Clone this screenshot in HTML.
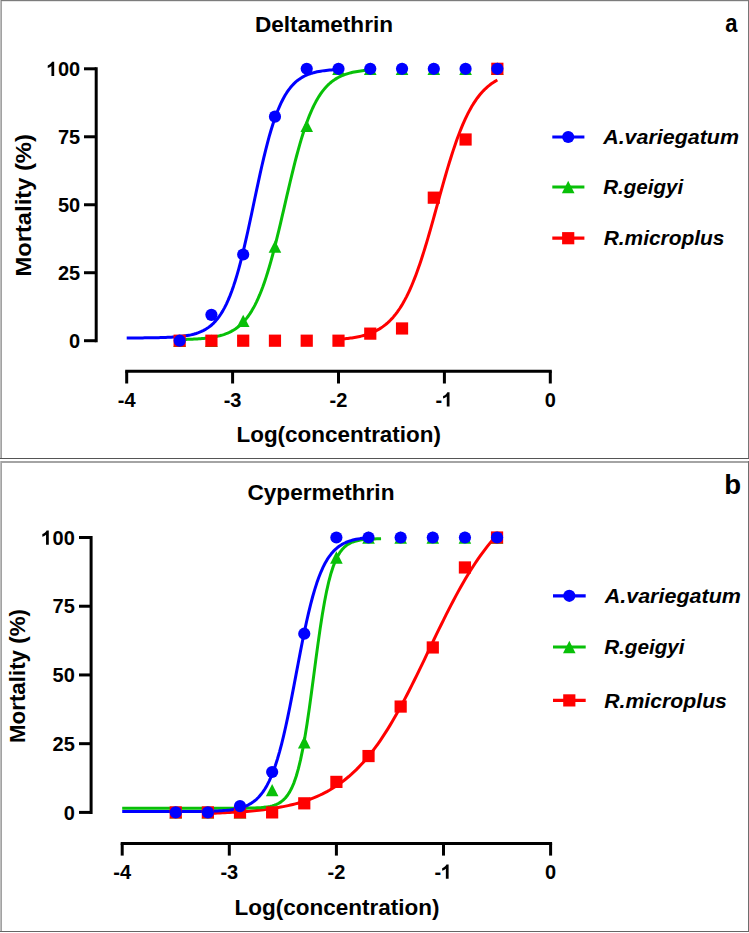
<!DOCTYPE html>
<html><head><meta charset="utf-8"><style>
html,body{margin:0;padding:0;background:#fff;}
body{width:749px;height:933px;overflow:hidden;}
svg{display:block;}
text{font-family:"Liberation Sans",sans-serif;font-weight:bold;fill:#000;}
.tk{font-size:20px;}
.ti{font-size:22px;}
.lg{font-size:21px;font-style:italic;}
.pl{font-size:26px;}
</style></head><body>
<svg width="749" height="933" viewBox="0 0 749 933">
<rect x="0" y="0" width="749" height="459" fill="#fff"/>
<rect x="0" y="0" width="748" height="1" fill="#7c7c7c"/>
<rect x="0" y="0" width="1" height="458" fill="#bcbcbc"/>
<rect x="1" y="1" width="1" height="457" fill="#a2a2a2"/>
<rect x="2" y="1" width="746" height="1" fill="#e6e6e6"/>
<rect x="748" y="0" width="1" height="459" fill="#767676"/>
<rect x="0" y="458" width="749" height="1" fill="#555"/>
<rect x="0" y="461" width="748" height="2" fill="#a4a4a4"/>
<rect x="0" y="461" width="1" height="470" fill="#bcbcbc"/>
<rect x="1" y="461" width="1" height="470" fill="#a2a2a2"/>
<rect x="748" y="461" width="1" height="471" fill="#6e6e6e"/>
<rect x="0" y="931" width="749" height="1" fill="#666"/>
<line x1="96.2" y1="67.30000000000001" x2="96.2" y2="342.2" stroke="#000" stroke-width="3"/>
<line x1="84" y1="340.7" x2="96.2" y2="340.7" stroke="#000" stroke-width="3"/>
<text x="80.2" y="347.9" text-anchor="end" class="tk">0</text>
<line x1="84" y1="272.725" x2="96.2" y2="272.725" stroke="#000" stroke-width="3"/>
<text x="80.2" y="279.925" text-anchor="end" class="tk">25</text>
<line x1="84" y1="204.75" x2="96.2" y2="204.75" stroke="#000" stroke-width="3"/>
<text x="80.2" y="211.95" text-anchor="end" class="tk">50</text>
<line x1="84" y1="136.775" x2="96.2" y2="136.775" stroke="#000" stroke-width="3"/>
<text x="80.2" y="143.975" text-anchor="end" class="tk">75</text>
<line x1="84" y1="68.80000000000001" x2="96.2" y2="68.80000000000001" stroke="#000" stroke-width="3"/>
<text x="80.2" y="76.00000000000001" text-anchor="end" class="tk">00</text>
<path transform="translate(46.84,76.00)" d="M7.35 0L4.6 0L4.6 -10.0C3.6 -9.1 2.3 -8.4 0.9 -8.0L0.9 -10.6C1.8 -10.9 2.7 -11.5 3.6 -12.2C4.4 -12.9 4.9 -13.6 5.2 -14.3L7.35 -14.3Z" fill="#000"/>
<line x1="125.19999999999993" y1="371.3" x2="551.8" y2="371.3" stroke="#000" stroke-width="3"/>
<line x1="126.69999999999993" y1="371.3" x2="126.69999999999993" y2="383.5" stroke="#000" stroke-width="3"/>
<text x="126.69999999999993" y="406.6" text-anchor="middle" class="tk">-4</text>
<line x1="232.5999999999999" y1="371.3" x2="232.5999999999999" y2="383.5" stroke="#000" stroke-width="3"/>
<text x="232.5999999999999" y="406.6" text-anchor="middle" class="tk">-3</text>
<line x1="338.49999999999994" y1="371.3" x2="338.49999999999994" y2="383.5" stroke="#000" stroke-width="3"/>
<text x="338.49999999999994" y="406.6" text-anchor="middle" class="tk">-2</text>
<line x1="444.4" y1="371.3" x2="444.4" y2="383.5" stroke="#000" stroke-width="3"/>
<text x="435.51" y="406.6" class="tk">-</text>
<path transform="translate(442.17,406.60)" d="M7.35 0L4.6 0L4.6 -10.0C3.6 -9.1 2.3 -8.4 0.9 -8.0L0.9 -10.6C1.8 -10.9 2.7 -11.5 3.6 -12.2C4.4 -12.9 4.9 -13.6 5.2 -14.3L7.35 -14.3Z" fill="#000"/>
<line x1="550.3" y1="371.3" x2="550.3" y2="383.5" stroke="#000" stroke-width="3"/>
<text x="550.3" y="406.6" text-anchor="middle" class="tk">0</text>
<polyline points="338.50,339.33 339.83,339.22 341.17,339.12 342.50,339.00 343.84,338.87 345.17,338.74 346.51,338.60 347.84,338.44 349.18,338.28 350.51,338.10 351.85,337.91 353.18,337.70 354.52,337.48 355.85,337.25 357.19,337.00 358.52,336.73 359.86,336.44 361.19,336.13 362.53,335.80 363.86,335.44 365.20,335.06 366.53,334.65 367.87,334.21 369.20,333.75 370.54,333.24 371.87,332.71 373.21,332.14 374.54,331.52 375.88,330.87 377.21,330.17 378.55,329.42 379.88,328.63 381.22,327.77 382.55,326.87 383.89,325.90 385.22,324.87 386.56,323.77 387.89,322.60 389.23,321.36 390.56,320.03 391.89,318.63 393.23,317.14 394.56,315.55 395.90,313.88 397.23,312.10 398.57,310.22 399.90,308.24 401.24,306.14 402.57,303.93 403.91,301.60 405.24,299.15 406.58,296.58 407.91,293.88 409.25,291.05 410.58,288.08 411.92,284.99 413.25,281.76 414.59,278.40 415.92,274.91 417.26,271.29 418.59,267.54 419.93,263.66 421.26,259.67 422.60,255.55 423.93,251.33 425.27,247.00 426.60,242.58 427.94,238.06 429.27,233.47 430.61,228.81 431.94,224.09 433.28,219.33 434.61,214.52 435.95,209.70 437.28,204.86 438.62,200.02 439.95,195.20 441.29,190.40 442.62,185.64 443.96,180.93 445.29,176.28 446.62,171.70 447.96,167.19 449.29,162.78 450.63,158.46 451.96,154.25 453.30,150.15 454.63,146.17 455.97,142.31 457.30,138.57 458.64,134.97 459.97,131.49 461.31,128.15 462.64,124.94 463.98,121.86 465.31,118.92 466.65,116.10 467.98,113.42 469.32,110.86 470.65,108.42 471.99,106.11 473.32,103.91 474.66,101.83 475.99,99.86 477.33,97.99 478.66,96.23 480.00,94.56 481.33,92.99 482.67,91.51 484.00,90.12 485.34,88.80 486.67,87.57 488.01,86.41 489.34,85.32 490.68,84.29 492.01,83.33 493.35,82.43 494.68,81.59 496.02,80.80 497.35,80.06" fill="none" stroke="#ff0000" stroke-width="3" stroke-linejoin="round"/>
<polyline points="179.65,339.56 181.25,339.53 182.85,339.49 184.46,339.44 186.06,339.40 187.66,339.34 189.26,339.29 190.86,339.22 192.46,339.15 194.07,339.07 195.67,338.98 197.27,338.89 198.87,338.78 200.47,338.66 202.08,338.53 203.68,338.39 205.28,338.23 206.88,338.05 208.48,337.85 210.09,337.63 211.69,337.39 213.29,337.13 214.89,336.84 216.49,336.51 218.09,336.15 219.70,335.76 221.30,335.32 222.90,334.83 224.50,334.30 226.10,333.71 227.71,333.06 229.31,332.35 230.91,331.56 232.51,330.69 234.11,329.74 235.71,328.69 237.32,327.54 238.92,326.28 240.52,324.89 242.12,323.37 243.72,321.71 245.33,319.90 246.93,317.92 248.53,315.76 250.13,313.41 251.73,310.86 253.34,308.10 254.94,305.11 256.54,301.89 258.14,298.42 259.74,294.69 261.34,290.70 262.95,286.45 264.55,281.92 266.15,277.11 267.75,272.04 269.35,266.70 270.96,261.10 272.56,255.26 274.16,249.18 275.76,242.90 277.36,236.44 278.96,229.81 280.57,223.06 282.17,216.21 283.77,209.30 285.37,202.36 286.97,195.43 288.58,188.55 290.18,181.75 291.78,175.07 293.38,168.53 294.98,162.17 296.58,156.00 298.19,150.06 299.79,144.36 301.39,138.90 302.99,133.72 304.59,128.80 306.20,124.15 307.80,119.77 309.40,115.67 311.00,111.83 312.60,108.25 314.21,104.93 315.81,101.84 317.41,98.98 319.01,96.34 320.61,93.91 322.21,91.67 323.82,89.62 325.42,87.73 327.02,86.01 328.62,84.43 330.22,82.99 331.83,81.67 333.43,80.47 335.03,79.38 336.63,78.39 338.23,77.48 339.83,76.66 341.44,75.92 343.04,75.24 344.64,74.63 346.24,74.07 347.84,73.57 349.45,73.11 351.05,72.70 352.65,72.32 354.25,71.98 355.85,71.68 357.46,71.40 359.06,71.15 360.66,70.92 362.26,70.72 363.86,70.53 365.46,70.36 367.07,70.21 368.67,70.08 370.27,69.95" fill="none" stroke="#08c008" stroke-width="3" stroke-linejoin="round"/>
<polyline points="126.70,337.95 128.48,337.94 130.26,337.94 132.04,337.93 133.82,337.92 135.60,337.92 137.38,337.91 139.16,337.90 140.94,337.89 142.72,337.88 144.50,337.86 146.28,337.85 148.06,337.83 149.84,337.81 151.62,337.78 153.40,337.76 155.18,337.73 156.96,337.69 158.74,337.66 160.52,337.61 162.30,337.56 164.08,337.51 165.86,337.44 167.64,337.37 169.42,337.29 171.20,337.20 172.98,337.09 174.76,336.97 176.54,336.84 178.32,336.69 180.09,336.51 181.87,336.32 183.65,336.10 185.43,335.85 187.21,335.56 188.99,335.24 190.77,334.88 192.55,334.47 194.33,334.01 196.11,333.48 197.89,332.89 199.67,332.22 201.45,331.47 203.23,330.62 205.01,329.67 206.79,328.59 208.57,327.38 210.35,326.03 212.13,324.50 213.91,322.80 215.69,320.89 217.47,318.77 219.25,316.40 221.03,313.77 222.81,310.85 224.59,307.62 226.37,304.07 228.15,300.16 229.93,295.88 231.71,291.22 233.49,286.16 235.27,280.69 237.05,274.82 238.83,268.54 240.61,261.86 242.39,254.81 244.17,247.42 245.95,239.71 247.73,231.74 249.51,223.55 251.29,215.21 253.07,206.78 254.85,198.31 256.63,189.89 258.41,181.58 260.19,173.43 261.97,165.51 263.75,157.86 265.53,150.53 267.31,143.55 269.09,136.96 270.87,130.75 272.65,124.96 274.43,119.58 276.21,114.60 277.99,110.01 279.77,105.81 281.55,101.98 283.33,98.49 285.11,95.32 286.88,92.47 288.66,89.89 290.44,87.57 292.22,85.49 294.00,83.62 295.78,81.96 297.56,80.47 299.34,79.14 301.12,77.96 302.90,76.91 304.68,75.98 306.46,75.15 308.24,74.42 310.02,73.76 311.80,73.19 313.58,72.68 315.36,72.22 317.14,71.82 318.92,71.47 320.70,71.16 322.48,70.88 324.26,70.64 326.04,70.42 327.82,70.23 329.60,70.06 331.38,69.91 333.16,69.78 334.94,69.67 336.72,69.56 338.50,69.47" fill="none" stroke="#0000ff" stroke-width="3" stroke-linejoin="round"/>
<polygon points="179.65,334.50 185.95,346.90 173.35,346.90" fill="#08c008"/>
<polygon points="211.42,334.50 217.72,346.90 205.12,346.90" fill="#08c008"/>
<polygon points="243.19,314.65 249.49,327.05 236.89,327.05" fill="#08c008"/>
<polygon points="274.96,240.42 281.26,252.82 268.66,252.82" fill="#08c008"/>
<polygon points="306.73,119.70 313.03,132.10 300.43,132.10" fill="#08c008"/>
<polygon points="338.50,62.60 344.80,75.00 332.20,75.00" fill="#08c008"/>
<polygon points="370.27,62.60 376.57,75.00 363.97,75.00" fill="#08c008"/>
<polygon points="402.04,62.60 408.34,75.00 395.74,75.00" fill="#08c008"/>
<polygon points="433.81,62.60 440.11,75.00 427.51,75.00" fill="#08c008"/>
<polygon points="465.58,62.60 471.88,75.00 459.28,75.00" fill="#08c008"/>
<polygon points="497.35,62.60 503.65,75.00 491.05,75.00" fill="#08c008"/>
<rect x="173.55" y="334.60" width="12.2" height="12.2" fill="#ff0000"/>
<rect x="205.32" y="334.60" width="12.2" height="12.2" fill="#ff0000"/>
<rect x="237.09" y="334.60" width="12.2" height="12.2" fill="#ff0000"/>
<rect x="268.86" y="334.60" width="12.2" height="12.2" fill="#ff0000"/>
<rect x="300.63" y="334.60" width="12.2" height="12.2" fill="#ff0000"/>
<rect x="332.40" y="334.60" width="12.2" height="12.2" fill="#ff0000"/>
<rect x="364.17" y="327.53" width="12.2" height="12.2" fill="#ff0000"/>
<rect x="395.94" y="322.36" width="12.2" height="12.2" fill="#ff0000"/>
<rect x="427.71" y="191.58" width="12.2" height="12.2" fill="#ff0000"/>
<rect x="459.48" y="133.39" width="12.2" height="12.2" fill="#ff0000"/>
<rect x="491.25" y="62.70" width="12.2" height="12.2" fill="#ff0000"/>
<circle cx="179.65" cy="340.70" r="6.1" fill="#0000ff"/>
<circle cx="211.42" cy="314.87" r="6.1" fill="#0000ff"/>
<circle cx="243.19" cy="254.51" r="6.1" fill="#0000ff"/>
<circle cx="274.96" cy="116.65" r="6.1" fill="#0000ff"/>
<circle cx="306.73" cy="68.80" r="6.1" fill="#0000ff"/>
<circle cx="338.50" cy="68.80" r="6.1" fill="#0000ff"/>
<circle cx="370.27" cy="68.80" r="6.1" fill="#0000ff"/>
<circle cx="402.04" cy="68.80" r="6.1" fill="#0000ff"/>
<circle cx="433.81" cy="68.80" r="6.1" fill="#0000ff"/>
<circle cx="465.58" cy="68.80" r="6.1" fill="#0000ff"/>
<circle cx="497.35" cy="68.80" r="6.1" fill="#0000ff"/>
<line x1="91.1" y1="536.0" x2="91.1" y2="813.9" stroke="#000" stroke-width="3"/>
<line x1="79" y1="812.4" x2="91.1" y2="812.4" stroke="#000" stroke-width="3"/>
<text x="74.8" y="819.6" text-anchor="end" class="tk">0</text>
<line x1="79" y1="743.675" x2="91.1" y2="743.675" stroke="#000" stroke-width="3"/>
<text x="74.8" y="750.875" text-anchor="end" class="tk">25</text>
<line x1="79" y1="674.9499999999999" x2="91.1" y2="674.9499999999999" stroke="#000" stroke-width="3"/>
<text x="74.8" y="682.15" text-anchor="end" class="tk">50</text>
<line x1="79" y1="606.2249999999999" x2="91.1" y2="606.2249999999999" stroke="#000" stroke-width="3"/>
<text x="74.8" y="613.425" text-anchor="end" class="tk">75</text>
<line x1="79" y1="537.5" x2="91.1" y2="537.5" stroke="#000" stroke-width="3"/>
<text x="74.8" y="544.7" text-anchor="end" class="tk">00</text>
<path transform="translate(41.44,544.70)" d="M7.35 0L4.6 0L4.6 -10.0C3.6 -9.1 2.3 -8.4 0.9 -8.0L0.9 -10.6C1.8 -10.9 2.7 -11.5 3.6 -12.2C4.4 -12.9 4.9 -13.6 5.2 -14.3L7.35 -14.3Z" fill="#000"/>
<line x1="120.70000000000005" y1="843.4" x2="552.1" y2="843.4" stroke="#000" stroke-width="3"/>
<line x1="122.20000000000005" y1="843.4" x2="122.20000000000005" y2="855.6" stroke="#000" stroke-width="3"/>
<text x="122.20000000000005" y="878.8" text-anchor="middle" class="tk">-4</text>
<line x1="229.30000000000007" y1="843.4" x2="229.30000000000007" y2="855.6" stroke="#000" stroke-width="3"/>
<text x="229.30000000000007" y="878.8" text-anchor="middle" class="tk">-3</text>
<line x1="336.40000000000003" y1="843.4" x2="336.40000000000003" y2="855.6" stroke="#000" stroke-width="3"/>
<text x="336.40000000000003" y="878.8" text-anchor="middle" class="tk">-2</text>
<line x1="443.5" y1="843.4" x2="443.5" y2="855.6" stroke="#000" stroke-width="3"/>
<text x="434.61" y="878.8" class="tk">-</text>
<path transform="translate(441.27,878.80)" d="M7.35 0L4.6 0L4.6 -10.0C3.6 -9.1 2.3 -8.4 0.9 -8.0L0.9 -10.6C1.8 -10.9 2.7 -11.5 3.6 -12.2C4.4 -12.9 4.9 -13.6 5.2 -14.3L7.35 -14.3Z" fill="#000"/>
<line x1="550.6" y1="843.4" x2="550.6" y2="855.6" stroke="#000" stroke-width="3"/>
<text x="550.6" y="878.8" text-anchor="middle" class="tk">0</text>
<polyline points="207.88,813.37 210.31,813.30 212.74,813.22 215.17,813.13 217.60,813.04 220.03,812.94 222.46,812.84 224.89,812.73 227.32,812.62 229.75,812.49 232.18,812.36 234.61,812.22 237.04,812.07 239.47,811.91 241.90,811.75 244.33,811.57 246.76,811.38 249.19,811.18 251.62,810.96 254.05,810.74 256.48,810.50 258.91,810.24 261.34,809.97 263.77,809.68 266.20,809.37 268.63,809.05 271.06,808.70 273.49,808.34 275.92,807.95 278.35,807.54 280.78,807.10 283.21,806.63 285.64,806.14 288.07,805.62 290.50,805.07 292.93,804.48 295.36,803.86 297.79,803.20 300.22,802.50 302.65,801.76 305.08,800.98 307.51,800.16 309.94,799.28 312.37,798.36 314.80,797.38 317.23,796.34 319.66,795.25 322.09,794.10 324.52,792.88 326.95,791.60 329.38,790.25 331.81,788.82 334.24,787.31 336.67,785.73 339.10,784.07 341.53,782.32 343.96,780.48 346.39,778.54 348.82,776.52 351.25,774.39 353.68,772.16 356.11,769.83 358.54,767.39 360.97,764.84 363.40,762.18 365.83,759.41 368.26,756.51 370.69,753.50 373.12,750.38 375.55,747.13 377.98,743.76 380.41,740.27 382.84,736.66 385.27,732.93 387.70,729.09 390.13,725.13 392.56,721.05 394.99,716.87 397.42,712.58 399.85,708.18 402.28,703.70 404.71,699.12 407.14,694.45 409.57,689.71 412.00,684.89 414.43,680.01 416.86,675.08 419.29,670.10 421.72,665.08 424.15,660.04 426.58,654.97 429.01,649.90 431.44,644.83 433.87,639.76 436.30,634.72 438.73,629.70 441.16,624.73 443.59,619.80 446.02,614.92 448.45,610.11 450.88,605.37 453.31,600.71 455.74,596.14 458.17,591.65 460.60,587.27 463.03,582.98 465.46,578.81 467.89,574.74 470.32,570.78 472.75,566.95 475.18,563.23 477.61,559.62 480.04,556.14 482.47,552.78 484.90,549.54 487.33,546.42 489.76,543.42 492.19,540.53 494.62,537.77 497.05,535.11" fill="none" stroke="#ff0000" stroke-width="3" stroke-linejoin="round"/>
<polyline points="122.20,808.28 124.38,808.28 126.55,808.28 128.73,808.28 130.90,808.28 133.08,808.28 135.25,808.28 137.43,808.28 139.60,808.28 141.78,808.28 143.95,808.28 146.13,808.28 148.30,808.28 150.48,808.28 152.65,808.28 154.83,808.28 157.00,808.28 159.18,808.28 161.36,808.28 163.53,808.28 165.71,808.28 167.88,808.28 170.06,808.28 172.23,808.28 174.41,808.28 176.58,808.28 178.76,808.28 180.93,808.28 183.11,808.28 185.28,808.28 187.46,808.28 189.63,808.28 191.81,808.28 193.98,808.28 196.16,808.28 198.34,808.28 200.51,808.28 202.69,808.28 204.86,808.28 207.04,808.27 209.21,808.27 211.39,808.27 213.56,808.27 215.74,808.27 217.91,808.27 220.09,808.27 222.26,808.27 224.44,808.27 226.61,808.26 228.79,808.26 230.97,808.25 233.14,808.25 235.32,808.24 237.49,808.23 239.67,808.21 241.84,808.20 244.02,808.18 246.19,808.15 248.37,808.11 250.54,808.07 252.72,808.01 254.89,807.93 257.07,807.84 259.24,807.71 261.42,807.56 263.59,807.36 265.77,807.11 267.95,806.78 270.12,806.37 272.30,805.85 274.47,805.18 276.65,804.33 278.82,803.26 281.00,801.89 283.17,800.18 285.35,798.01 287.52,795.30 289.70,791.91 291.87,787.72 294.05,782.55 296.22,776.25 298.40,768.67 300.57,759.65 302.75,749.11 304.93,737.02 307.10,723.46 309.28,708.61 311.45,692.79 313.63,676.40 315.80,659.92 317.98,643.84 320.15,628.60 322.33,614.55 324.50,601.92 326.68,590.82 328.85,581.27 331.03,573.18 333.20,566.44 335.38,560.89 337.55,556.37 339.73,552.71 341.91,549.77 344.08,547.42 346.26,545.55 348.43,544.07 350.61,542.90 352.78,541.98 354.96,541.25 357.13,540.68 359.31,540.23 361.48,539.88 363.66,539.60 365.83,539.38 368.01,539.21 370.18,539.08 372.36,538.98 374.53,538.89 376.71,538.83 378.89,538.78 381.06,538.74" fill="none" stroke="#08c008" stroke-width="3" stroke-linejoin="round"/>
<polyline points="122.20,811.57 124.27,811.57 126.34,811.57 128.41,811.57 130.48,811.57 132.55,811.57 134.62,811.57 136.69,811.57 138.76,811.57 140.83,811.57 142.90,811.57 144.97,811.57 147.04,811.57 149.11,811.57 151.18,811.57 153.25,811.57 155.32,811.57 157.39,811.57 159.46,811.57 161.53,811.57 163.60,811.57 165.67,811.56 167.74,811.56 169.81,811.56 171.88,811.56 173.95,811.55 176.02,811.55 178.09,811.54 180.16,811.54 182.23,811.53 184.30,811.53 186.37,811.52 188.44,811.51 190.51,811.50 192.58,811.48 194.65,811.47 196.72,811.45 198.79,811.43 200.86,811.40 202.93,811.37 205.00,811.33 207.07,811.29 209.14,811.24 211.21,811.18 213.28,811.12 215.35,811.04 217.42,810.94 219.49,810.84 221.56,810.71 223.63,810.56 225.70,810.38 227.77,810.18 229.84,809.94 231.91,809.65 233.98,809.32 236.05,808.94 238.12,808.49 240.19,807.96 242.26,807.34 244.33,806.62 246.40,805.78 248.47,804.80 250.54,803.66 252.61,802.34 254.68,800.80 256.75,799.02 258.82,796.96 260.89,794.58 262.96,791.85 265.03,788.72 267.10,785.14 269.17,781.07 271.24,776.46 273.31,771.27 275.38,765.46 277.45,759.00 279.52,751.87 281.59,744.06 283.66,735.60 285.73,726.51 287.80,716.85 289.87,706.70 291.94,696.16 294.01,685.35 296.08,674.39 298.15,663.43 300.22,652.61 302.29,642.05 304.36,631.88 306.43,622.20 308.50,613.08 310.57,604.59 312.64,596.75 314.71,589.59 316.78,583.09 318.85,577.25 320.92,572.03 322.99,567.39 325.06,563.30 327.13,559.69 329.20,556.54 331.27,553.79 333.34,551.40 335.41,549.32 337.48,547.53 339.55,545.98 341.62,544.65 343.69,543.50 345.76,542.51 347.83,541.67 349.90,540.94 351.97,540.32 354.04,539.79 356.11,539.33 358.18,538.94 360.25,538.61 362.32,538.33 364.39,538.08 366.46,537.88 368.53,537.70" fill="none" stroke="#0000ff" stroke-width="3" stroke-linejoin="round"/>
<polygon points="175.75,806.20 182.05,818.60 169.45,818.60" fill="#08c008"/>
<polygon points="207.88,806.20 214.18,818.60 201.58,818.60" fill="#08c008"/>
<polygon points="240.01,806.20 246.31,818.60 233.71,818.60" fill="#08c008"/>
<polygon points="272.14,783.93 278.44,796.33 265.84,796.33" fill="#08c008"/>
<polygon points="304.27,736.10 310.57,748.50 297.97,748.50" fill="#08c008"/>
<polygon points="336.40,551.37 342.70,563.77 330.10,563.77" fill="#08c008"/>
<polygon points="368.53,531.30 374.83,543.70 362.23,543.70" fill="#08c008"/>
<polygon points="400.66,531.30 406.96,543.70 394.36,543.70" fill="#08c008"/>
<polygon points="432.79,531.30 439.09,543.70 426.49,543.70" fill="#08c008"/>
<polygon points="464.92,531.30 471.22,543.70 458.62,543.70" fill="#08c008"/>
<polygon points="497.05,531.30 503.35,543.70 490.75,543.70" fill="#08c008"/>
<rect x="169.65" y="806.30" width="12.2" height="12.2" fill="#ff0000"/>
<rect x="201.78" y="806.30" width="12.2" height="12.2" fill="#ff0000"/>
<rect x="233.91" y="806.30" width="12.2" height="12.2" fill="#ff0000"/>
<rect x="266.04" y="806.30" width="12.2" height="12.2" fill="#ff0000"/>
<rect x="298.17" y="797.23" width="12.2" height="12.2" fill="#ff0000"/>
<rect x="330.30" y="775.79" width="12.2" height="12.2" fill="#ff0000"/>
<rect x="362.43" y="749.95" width="12.2" height="12.2" fill="#ff0000"/>
<rect x="394.56" y="700.46" width="12.2" height="12.2" fill="#ff0000"/>
<rect x="426.69" y="641.36" width="12.2" height="12.2" fill="#ff0000"/>
<rect x="458.82" y="561.36" width="12.2" height="12.2" fill="#ff0000"/>
<rect x="490.95" y="531.40" width="12.2" height="12.2" fill="#ff0000"/>
<circle cx="175.75" cy="812.40" r="6.1" fill="#0000ff"/>
<circle cx="207.88" cy="812.40" r="6.1" fill="#0000ff"/>
<circle cx="240.01" cy="806.08" r="6.1" fill="#0000ff"/>
<circle cx="272.14" cy="771.99" r="6.1" fill="#0000ff"/>
<circle cx="304.27" cy="633.71" r="6.1" fill="#0000ff"/>
<circle cx="336.40" cy="537.50" r="6.1" fill="#0000ff"/>
<circle cx="368.53" cy="537.50" r="6.1" fill="#0000ff"/>
<circle cx="400.66" cy="537.50" r="6.1" fill="#0000ff"/>
<circle cx="432.79" cy="537.50" r="6.1" fill="#0000ff"/>
<circle cx="464.92" cy="537.50" r="6.1" fill="#0000ff"/>
<circle cx="497.05" cy="537.50" r="6.1" fill="#0000ff"/>
<line x1="552.3" y1="137" x2="584.4" y2="137" stroke="#0000ff" stroke-width="3.2"/>
<circle cx="568.20" cy="137.00" r="6.1" fill="#0000ff"/>
<text transform="translate(603.15,144) scale(1.0212,1)" class="lg" style="font-size:21px">A.variegatum</text>
<line x1="552.3" y1="187" x2="584.4" y2="187" stroke="#08c008" stroke-width="3.2"/>
<polygon points="568.20,180.80 574.50,193.20 561.90,193.20" fill="#08c008"/>
<text transform="translate(603.20,194) scale(0.9788,1)" class="lg" style="font-size:21px">R.geigyi</text>
<line x1="552.3" y1="238.2" x2="584.4" y2="238.2" stroke="#ff0000" stroke-width="3.2"/>
<rect x="562.10" y="232.10" width="12.2" height="12.2" fill="#ff0000"/>
<text transform="translate(603.70,245.4) scale(0.9957,1)" class="lg" style="font-size:21px">R.microplus</text>
<line x1="553" y1="595.8" x2="585.7" y2="595.8" stroke="#0000ff" stroke-width="3.2"/>
<circle cx="569.30" cy="595.80" r="6.1" fill="#0000ff"/>
<text transform="translate(604.66,602.7) scale(1.0248,1)" class="lg" style="font-size:21px">A.variegatum</text>
<line x1="553" y1="647" x2="585.7" y2="647" stroke="#08c008" stroke-width="3.2"/>
<polygon points="569.30,640.80 575.60,653.20 563.00,653.20" fill="#08c008"/>
<text transform="translate(604.19,654.3) scale(0.9852,1)" class="lg" style="font-size:21px">R.geigyi</text>
<line x1="553" y1="700.4" x2="585.7" y2="700.4" stroke="#ff0000" stroke-width="3.2"/>
<rect x="563.20" y="694.30" width="12.2" height="12.2" fill="#ff0000"/>
<text transform="translate(604.19,707.7) scale(1.0121,1)" class="lg" style="font-size:21px">R.microplus</text>
<text transform="translate(254.95,32.4) scale(1.0271,1)" class="ti" style="font-size:22px">Deltamethrin</text>
<text transform="translate(247.48,500) scale(1.0281,1)" class="ti" style="font-size:22px">Cypermethrin</text>
<text transform="translate(725.25,32.1) scale(0.8799,1)" class="pl" style="font-size:25px">a</text>
<text transform="translate(724.33,493.8) scale(1.0216,1)" class="pl" style="font-size:27px">b</text>
<text transform="translate(236.48,441.8) scale(1.0205,1)" class="ti" style="font-size:22px">Log(concentration)</text>
<text transform="translate(234.47,915) scale(1.0231,1)" class="ti" style="font-size:22px">Log(concentration)</text>
<text transform="translate(31,276.55) rotate(-90) scale(1.0802,1)" class="ti" style="font-size:22px">Mortality (%)</text>
<text transform="translate(25.4,743.04) rotate(-90) scale(1.0157,1)" class="ti" style="font-size:22px">Mortality (%)</text>
</svg>
</body></html>
